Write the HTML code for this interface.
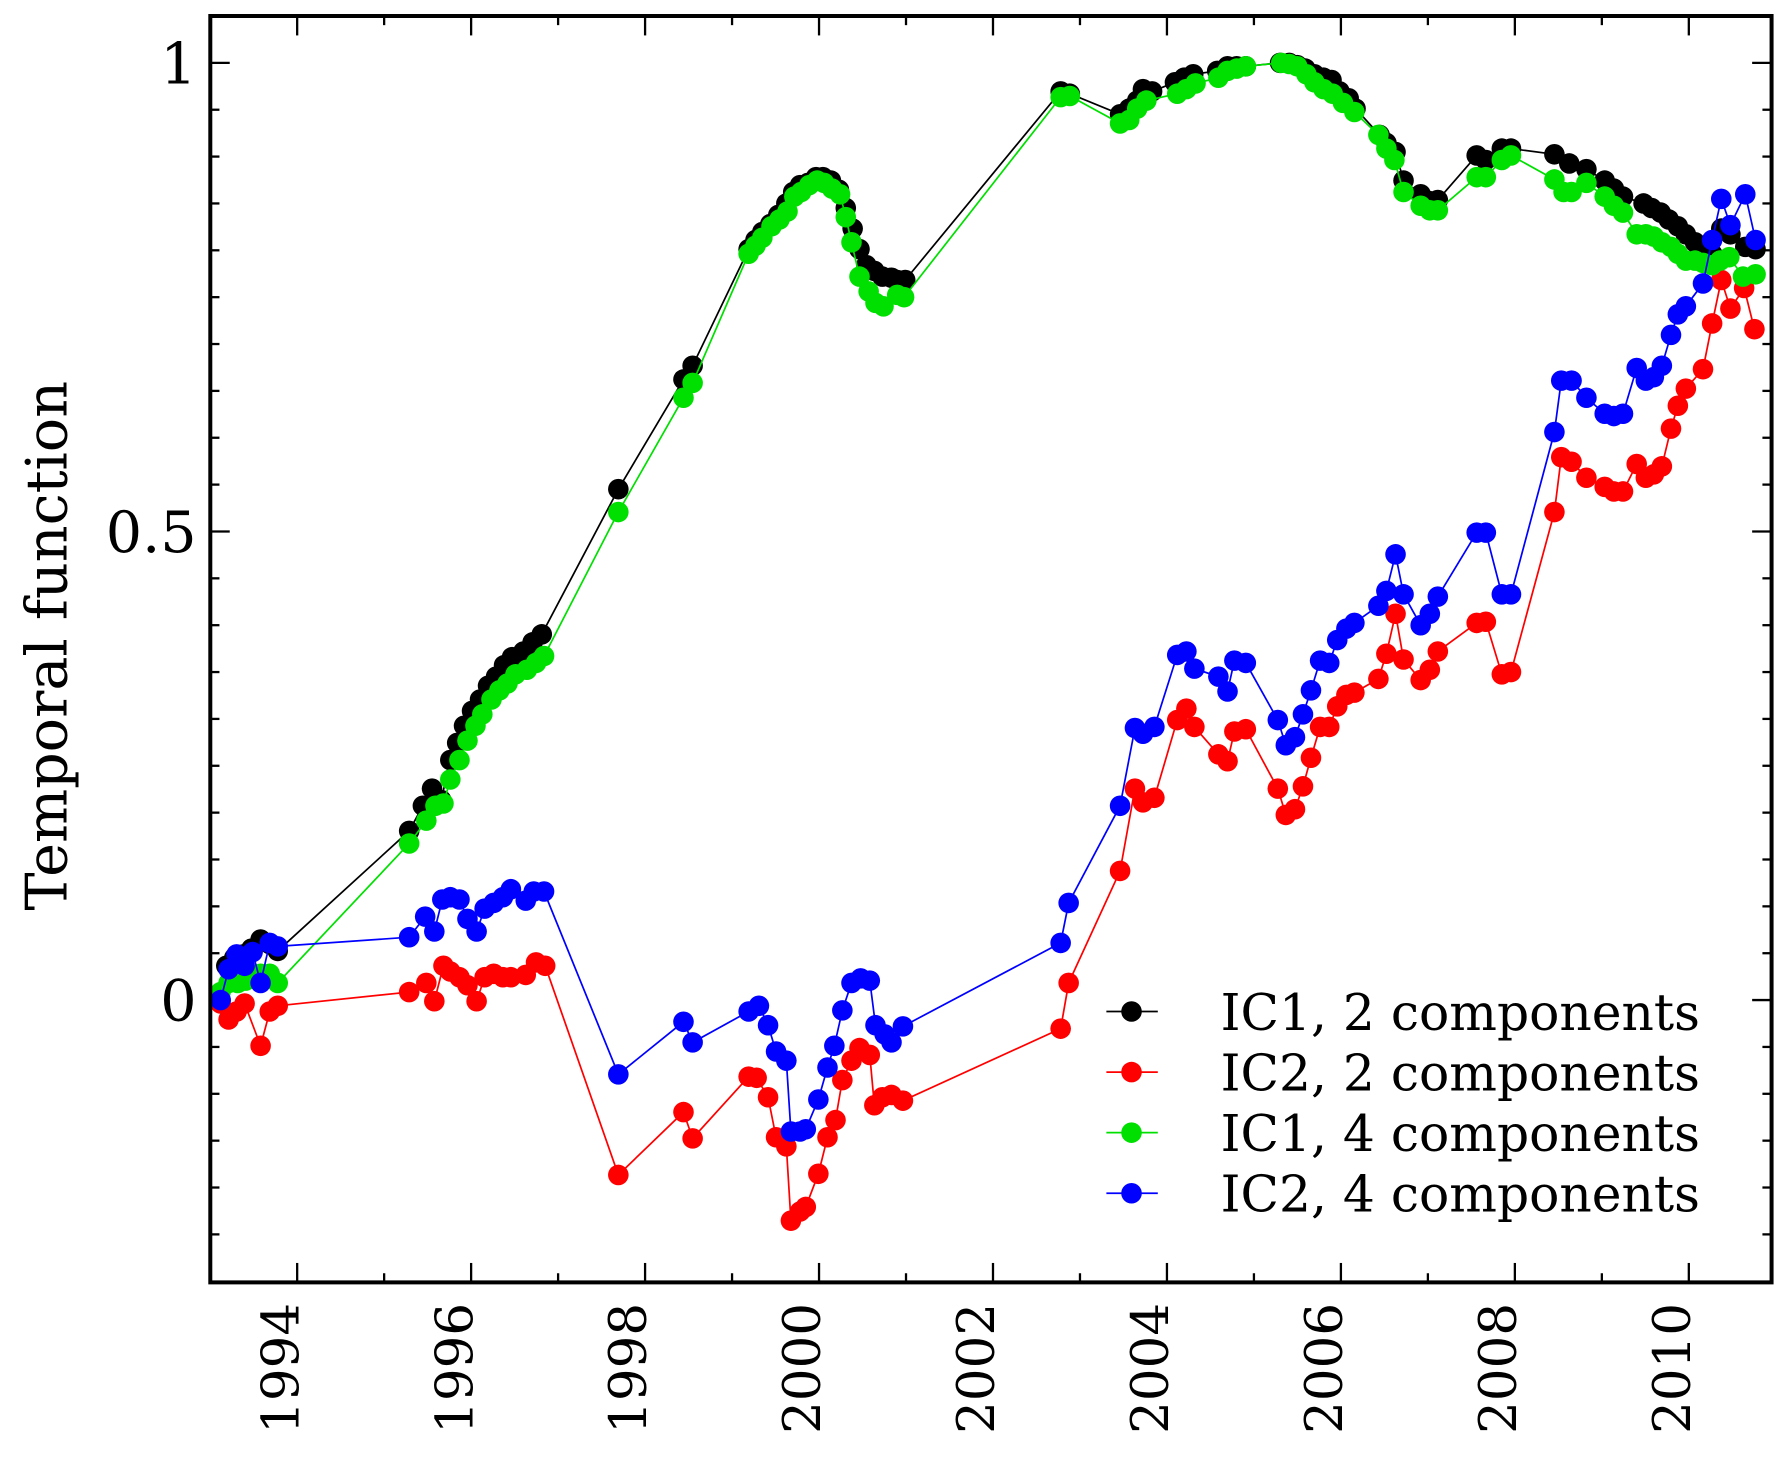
<!DOCTYPE html>
<html><head><meta charset="utf-8"><style>
html,body{margin:0;padding:0;background:#fff;}
svg{display:block;}
text{font-family:"DejaVu Serif","Liberation Serif",serif;fill:#000;}
</style></head><body>
<svg id="s" width="1783" height="1460" viewBox="0 0 1560 1277.4" xmlns="http://www.w3.org/2000/svg">
<rect x="0" y="0" width="1560" height="1277.4" fill="#fff"/>
<g id="ticks" stroke="#000" stroke-width="2"></g>
<g id="series"></g>
<rect x="184" y="14" width="1366" height="1108" fill="none" stroke="#000" stroke-width="3.5"/>
<g font-size="50" text-anchor="end">
<text x="172" y="73">1</text>
<text x="172" y="483">0.5</text>
<text x="172" y="893">0</text>
</g>
<text transform="translate(58,565) rotate(-90)" font-size="50" text-anchor="middle">Temporal function</text>
<g font-size="45" text-anchor="end" id="xl"></g>
<g id="leg"></g>
<g font-size="44">
<text x="1068" y="901">IC1, 2 components</text>
<text x="1068" y="954">IC2, 2 components</text>
<text x="1068" y="1007">IC1, 4 components</text>
<text x="1068" y="1060">IC2, 4 components</text>
</g>
</svg>
<script>
var NS="http://www.w3.org/2000/svg";
function el(p,t,a){var e=document.createElementNS(NS,t);for(var k in a)e.setAttribute(k,a[k]);p.appendChild(e);return e;}
var tk=document.getElementById('ticks');
for(var i=-6;i<=21;i++){var v=i*0.05;var y=875-v*820;if(y<16||y>1120)continue;var major=(i%10==0);var L=major?17:8;
el(tk,'line',{x1:184,y1:y,x2:184+L,y2:y});el(tk,'line',{x1:1550,y1:y,x2:1550-L,y2:y});}
for(var yr=1993;yr<=2011;yr++){var x=260+(yr-1994)*76.1;if(x<186||x>1548)continue;var major=(yr%2==0);var L=major?17:8;
el(tk,'line',{x1:x,y1:1122,x2:x,y2:1122-L});el(tk,'line',{x1:x,y1:14,x2:x,y2:14+L});
if(major){var t=el(document.getElementById('xl'),'text',{transform:'translate('+(x+1)+',1140) rotate(-90)'});t.textContent=yr;}}
var B=[[193,875],[198,845],[205,838],[213,835],[220,830],[228,822],[236,826],[243,832],[358,727],[370,705],[378,690],[386,700],[394,665],[400,650],[406,635],[413,622],[420,612],[427,600],[434,592],[441,582],[448,575],[458,570],[466,562],[474,555],[541,428],[598,332],[606,320],[655,218],[661,210],[667,203],[674,196],[681,188],[688,178],[694,168],[700,162],[707,160],[714,155],[720,155],[727,158],[734,166],[740,182],[746,200],[752,218],[758,232],[765,237],[772,242],[780,243],[785,245],[792,245],[928,80],[936,82],[980,100],[988,95],[995,88],[1000,78],[1008,80],[1028,72],[1036,68],[1044,65],[1065,62],[1074,58],[1082,58],[1090,58],[1120,55],[1128,55],[1135,57],[1142,60],[1150,65],[1158,68],[1165,70],[1172,80],[1180,86],[1186,95],[1207,118],[1213,125],[1221,133],[1228,158],[1243,170],[1251,176],[1258,175],[1292,136],[1300,140],[1314,130],[1322,130],[1360,135],[1373,143],[1388,148],[1404,158],[1412,165],[1420,172],[1438,178],[1445,182],[1453,186],[1460,192],[1468,198],[1475,205],[1483,212],[1490,215],[1498,222],[1506,200],[1514,205],[1527,216],[1536,218]];
var G=[[193,868],[200,860],[208,860],[215,858],[228,852],[236,852],[243,860],[358,738],[373,718],[381,705],[388,703],[394,682],[402,665],[409,648],[416,635],[422,625],[430,612],[437,604],[444,598],[451,590],[461,586],[469,580],[476,574],[541,448],[598,348],[606,335],[655,222],[661,215],[667,208],[675,198],[682,192],[689,185],[695,172],[701,168],[708,162],[715,158],[721,160],[728,165],[735,170],[740,190],[745,212],[752,242],[760,255],[766,265],[773,268],[785,258],[791,260],[928,85],[936,84],[980,108],[988,105],[995,95],[1003,88],[1030,82],[1038,78],[1046,73],[1066,68],[1074,62],[1082,60],[1090,58],[1121,55],[1128,56],[1135,58],[1143,65],[1150,72],[1158,78],[1166,82],[1175,90],[1185,98],[1206,118],[1213,130],[1220,140],[1228,168],[1243,180],[1251,184],[1258,184],[1292,155],[1300,155],[1314,140],[1322,136],[1360,157],[1368,168],[1375,168],[1388,160],[1404,172],[1412,180],[1420,186],[1432,205],[1440,205],[1447,207],[1454,212],[1462,216],[1468,222],[1475,228],[1483,228],[1490,230],[1498,232],[1505,228],[1513,225],[1525,242],[1536,240]];
var R=[[193,878],[200,892],[207,885],[214,878],[228,915],[236,885],[243,880],[358,868],[373,860],[380,876],[388,845],[394,850],[402,855],[409,862],[417,876],[424,855],[432,852],[440,855],[447,855],[460,853],[469,842],[477,845],[541,1028],[598,973],[606,996],[655,942],[662,943],[672,960],[679,995],[688,1003],[692,1068],[700,1060],[705,1056],[716,1027],[724,995],[731,980],[737,945],[745,928],[752,917],[761,923],[765,967],[772,960],[780,958],[790,963],[928,900],[935,860],[980,762],[993,690],[1000,702],[1010,698],[1030,630],[1038,620],[1045,636],[1066,660],[1074,666],[1080,640],[1090,638],[1118,690],[1125,713],[1133,708],[1140,688],[1147,663],[1155,636],[1163,636],[1170,618],[1178,608],[1185,606],[1206,594],[1213,572],[1221,537],[1228,577],[1243,595],[1251,586],[1258,570],[1292,545],[1300,544],[1314,590],[1322,588],[1360,448],[1366,400],[1375,404],[1388,418],[1404,426],[1412,430],[1420,430],[1432,406],[1440,418],[1447,415],[1454,408],[1462,375],[1468,355],[1475,340],[1490,323],[1498,283],[1506,245],[1514,270],[1526,252],[1535,288]];
var U=[[193,875],[200,848],[207,835],[214,845],[221,833],[228,860],[236,825],[243,828],[358,820],[372,802],[380,815],[387,787],[394,785],[402,787],[409,804],[417,815],[424,795],[432,790],[440,785],[447,778],[460,788],[467,780],[476,780],[541,940],[598,894],[606,912],[655,885],[664,880],[672,897],[679,920],[688,928],[692,990],[700,990],[705,988],[716,962],[724,934],[730,915],[737,884],[745,860],[753,856],[761,858],[766,897],[774,905],[780,912],[790,898],[928,825],[935,790],[980,705],[993,637],[1000,642],[1010,636],[1030,573],[1038,570],[1045,585],[1066,592],[1074,605],[1080,578],[1090,580],[1118,630],[1125,652],[1133,645],[1140,625],[1147,604],[1155,578],[1163,580],[1170,560],[1178,550],[1185,545],[1206,530],[1213,517],[1221,485],[1228,520],[1243,547],[1251,537],[1258,522],[1292,466],[1300,466],[1314,520],[1322,520],[1360,378],[1366,333],[1375,333],[1388,348],[1404,362],[1412,364],[1420,362],[1432,322],[1440,333],[1447,330],[1454,320],[1462,293],[1468,275],[1475,268],[1490,248],[1498,210],[1506,174],[1514,197],[1527,170],[1536,210]];
var sg=document.getElementById('series');
function draw(d,c){el(sg,'polyline',{points:d.map(function(p){return p.join(',')}).join(' '),fill:'none',stroke:c,'stroke-width':1.5});
d.forEach(function(p){el(sg,'circle',{cx:p[0],cy:p[1],r:9,fill:c});});}
draw(B,'#000');draw(R,'#ff0000');draw(G,'#00e000');draw(U,'#0000ff');
var lg=document.getElementById('leg');var cs=['#000','#ff0000','#00e000','#0000ff'];
for(var i=0;i<4;i++){var y=885+i*53;el(lg,'line',{x1:968,y1:y,x2:1013,y2:y,stroke:cs[i],'stroke-width':1.5});el(lg,'circle',{cx:990,cy:y,r:9,fill:cs[i]});}
</script>
</body></html>
